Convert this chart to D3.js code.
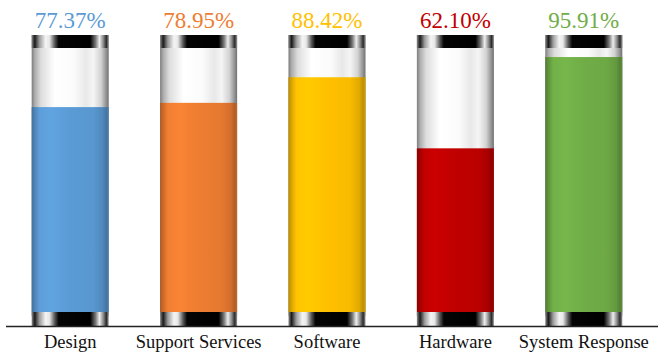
<!DOCTYPE html>
<html>
<head>
<meta charset="utf-8">
<script src="https://cdn.jsdelivr.net/npm/d3@7"></script>
<style>
  html, body { margin: 0; padding: 0; background: #fff; }
  svg { display: block; }
  text { font-family: "Liberation Serif", "Times New Roman", serif; }
</style>
</head>
<body>
<div id="chart"></div>
<script>
// data
const categories = ["Design", "Support Services", "Software", "Hardware", "System Response"];
const values = [77.37, 78.95, 88.42, 62.10, 95.91];
const palette = ["#5b9bd5", "#ed7d31", "#ffc000", "#c00000", "#70ad47"];

const W = 658, H = 354;
const capH = 13;
const topCapY = 35, bottomCapY = 312, axisY = 326.5;

const svg = d3.select("#chart").append("svg")
    .attr("width", W).attr("height", H);

const defs = svg.append("defs");

// scales
const x = d3.scaleBand()
    .domain(categories)
    .range([6, 648])
    .paddingInner(0.4)
    .paddingOuter(0.2);
const y = d3.scaleLinear().domain([0, 100]).range([316, 46]);

// metal cap gradient
const cap = defs.append("linearGradient").attr("id", "cap");
[[0, "#8a8a8a"], [0.04, "#1a1a1a"], [0.1, "#9a9a9a"], [0.18, "#f4f4f4"], [0.23, "#e8e8e8"],
 [0.3, "#555"], [0.35, "#050505"], [0.76, "#000"], [0.83, "#7a7a7a"], [0.88, "#eeeeee"],
 [0.93, "#8a8a8a"], [0.97, "#2a2a2a"], [1, "#9a9a9a"]]
    .forEach(([o, c]) => cap.append("stop").attr("offset", o).attr("stop-color", c));

// glass gradient
const glass = defs.append("linearGradient").attr("id", "glass");
[[0, "#7c7c7c"], [0.04, "#acacac"], [0.12, "#dddddd"], [0.3, "#ffffff"], [0.55, "#fbfbfb"],
 [0.7, "#e8e8e8"], [0.8, "#f5f5f5"], [0.9, "#d2d2d2"], [0.96, "#999"], [1, "#727272"]]
    .forEach(([o, c]) => glass.append("stop").attr("offset", o).attr("stop-color", c));

// liquid gradients, one per colour
palette.forEach((col, i) => {
    const g = defs.append("linearGradient").attr("id", "fill" + i);
    const base = d3.color(col);
    [[0, base.darker(0.9)], [0.04, base.darker(0.45)], [0.1, base.brighter(0.05)],
     [0.25, base.brighter(0.15)], [0.5, base], [0.8, base.darker(0.08)],
     [0.92, base.darker(0.35)], [0.97, base.darker(0.8)], [1, base.darker(0.5)]]
        .forEach(([o, c]) => g.append("stop").attr("offset", o).attr("stop-color", c.formatHex()));
});

const bars = svg.selectAll(".bar")
    .data(categories.map((c, i) => ({ cat: c, val: values[i], i })))
    .enter().append("g").attr("class", "bar");

// glass tube
bars.append("rect")
    .attr("x", d => x(d.cat)).attr("width", x.bandwidth())
    .attr("y", topCapY).attr("height", bottomCapY - topCapY)
    .attr("fill", "url(#glass)");

// liquid
bars.append("rect")
    .attr("x", d => x(d.cat)).attr("width", x.bandwidth())
    .attr("y", d => y(d.val)).attr("height", d => y(0) - y(d.val))
    .attr("fill", d => `url(#fill${d.i})`);

// caps
bars.append("rect")
    .attr("x", d => x(d.cat)).attr("width", x.bandwidth())
    .attr("y", topCapY).attr("height", capH)
    .attr("fill", "url(#cap)");
bars.append("rect")
    .attr("x", d => x(d.cat)).attr("width", x.bandwidth())
    .attr("y", bottomCapY).attr("height", axisY - bottomCapY - 0.5)
    .attr("fill", "url(#cap)");

// value labels
bars.append("text")
    .attr("x", d => x(d.cat) + x.bandwidth() / 2)
    .attr("y", 28)
    .attr("text-anchor", "middle")
    .style("font-family", "'Liberation Serif', 'Times New Roman', serif")
    .style("font-size", "23px")
    .attr("fill", d => palette[d.i])
    .text(d => d.val.toFixed(2) + "%");

// baseline
svg.append("line")
    .attr("x1", 6).attr("x2", W)
    .attr("y1", axisY).attr("y2", axisY)
    .attr("stroke", "#222").attr("stroke-width", 1.6);

// category labels
svg.append("g")
    .attr("transform", `translate(0,${axisY})`)
    .call(d3.axisBottom(x).tickSize(0).tickPadding(0))
    .call(g => g.select(".domain").remove())
    .selectAll("text")
    .attr("dy", null)
    .attr("y", 21.5)
    .style("font-family", "'Liberation Serif', 'Times New Roman', serif")
    .style("font-size", "18.5px")
    .attr("fill", "#111");
</script>
</body>
</html>
